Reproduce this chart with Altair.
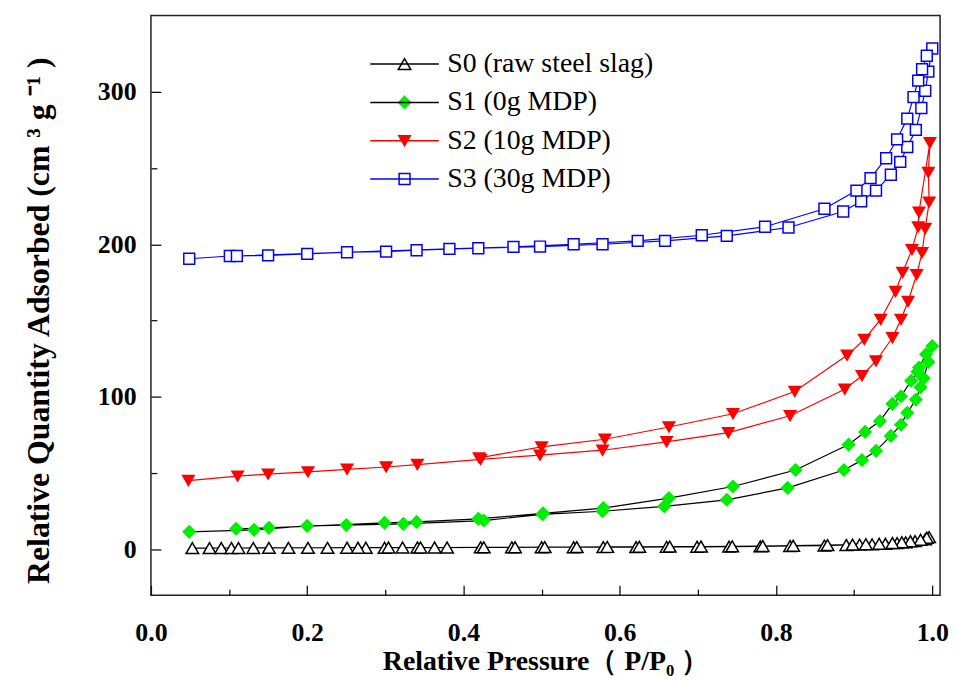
import altair as alt
import pandas as pd

# ---------------- data ----------------
names = ["S0 (raw steel slag)", "S1 (0g MDP)", "S2 (10g MDP)", "S3 (30g MDP)"]
line_colors = ["#000000", "#000000", "#ff0000", "#0000ff"]
fill_colors = ["#ffffff", "#00ee00", "#ff0000", "#ffffff"]
stroke_colors = ["#000000", "#00ee00", "#ff0000", "#0000ff"]
shapes = ["triangle-up", "diamond", "triangle-down", "square"]
sizes = [160, 120, 170, 85]

s0_ads_p = [0.053, 0.075, 0.090, 0.103, 0.131, 0.151, 0.176, 0.201, 0.226, 0.251, 0.275, 0.299, 0.322,
            0.341, 0.363, 0.379, 0.422, 0.462, 0.500, 0.541, 0.579, 0.621, 0.660, 0.699, 0.740, 0.780,
            0.818, 0.862, 0.890, 0.907, 0.923, 0.940, 0.955, 0.966, 0.978, 0.991, 0.996]
s0_ads_v = [0.8, 0.8, 0.9, 0.9, 0.9, 1.0, 1.0, 1.0, 1.0, 1.1, 1.1, 1.1, 1.2,
            1.2, 1.2, 1.2, 1.3, 1.3, 1.4, 1.4, 1.5, 1.5, 1.6, 1.7, 1.8, 2.0,
            2.2, 2.5, 2.9, 3.1, 3.3, 3.7, 4.1, 4.6, 5.4, 6.6, 8.0]
s0_des_p = [0.993, 0.985, 0.972, 0.961, 0.949, 0.932, 0.915, 0.898, 0.866, 0.822, 0.783, 0.744,
            0.704, 0.664, 0.625, 0.584, 0.545, 0.504, 0.466, 0.426, 0.345, 0.304, 0.265, 0.112]
s0_des_v = [7.6, 6.3, 5.3, 4.7, 4.2, 3.7, 3.4, 3.1, 2.8, 2.4, 2.2, 2.0,
            1.9, 1.8, 1.7, 1.6, 1.5, 1.5, 1.4, 1.3, 1.2, 1.2, 1.1, 0.9]

s1_ads_p = [0.049, 0.132, 0.200, 0.250, 0.323, 0.426, 0.501, 0.578, 0.657, 0.737, 0.815, 0.887,
            0.910, 0.928, 0.947, 0.960, 0.968, 0.979, 0.985, 0.989, 0.995, 1.000]
s1_ads_v = [11.5, 12.8, 15.4, 15.9, 16.7, 18.9, 23.0, 25.0, 28.2, 32.5, 40.3, 52.0,
            58.5, 64.6, 74.4, 81.7, 89.5, 98.2, 106.2, 112.1, 122.9, 133.3]
s1_des_p = [0.992, 0.983, 0.981, 0.973, 0.960, 0.949, 0.933, 0.914, 0.893, 0.825, 0.745, 0.663,
            0.579, 0.502, 0.419, 0.340, 0.299, 0.151, 0.109]
s1_des_v = [127.9, 119.2, 116.4, 110.5, 100.4, 95.4, 84.1, 77.0, 68.7, 52.0, 41.2, 33.6,
            27.1, 23.6, 20.0, 18.0, 17.4, 14.1, 13.5]

s2_ads_p = [0.048, 0.111, 0.150, 0.201, 0.251, 0.301, 0.341, 0.422, 0.498, 0.578, 0.660, 0.739,
            0.818, 0.888, 0.910, 0.928, 0.949, 0.960, 0.969, 0.980, 0.987, 0.991, 0.996, 0.995, 0.997]
s2_ads_v = [45.1, 48.0, 49.3, 50.8, 52.5, 54.0, 55.6, 59.0, 61.8, 65.0, 70.5, 76.5,
            87.6, 105.0, 113.8, 123.5, 138.7, 150.7, 162.5, 180.0, 194.5, 210.3, 227.6, 247.1, 266.6]
s2_des_p = [0.983, 0.982, 0.974, 0.962, 0.953, 0.934, 0.913, 0.891, 0.824, 0.745, 0.663, 0.581,
            0.500, 0.420]
s2_des_v = [221.0, 211.3, 196.5, 181.5, 169.0, 150.7, 137.6, 127.2, 103.5, 88.9, 80.2, 72.2,
            67.2, 60.0]

s3_ads_p = [0.049, 0.101, 0.150, 0.200, 0.251, 0.301, 0.340, 0.419, 0.498, 0.578, 0.658, 0.737,
            0.816, 0.886, 0.909, 0.928, 0.947, 0.959, 0.968, 0.979, 0.986, 0.991, 0.995, 1.000]
s3_ads_v = [190.5, 192.3, 192.7, 193.7, 194.8, 195.2, 196.1, 197.4, 198.5, 200.0, 202.2, 205.5,
            211.0, 221.5, 228.2, 235.2, 245.6, 254.0, 263.8, 275.0, 289.3, 300.6, 313.2, 328.3]
s3_des_p = [0.993, 0.987, 0.982, 0.976, 0.968, 0.955, 0.941, 0.921, 0.903, 0.862, 0.786, 0.705,
            0.623, 0.541, 0.464, 0.382, 0.110]
s3_des_v = [323.6, 314.7, 307.3, 296.5, 282.4, 268.8, 256.4, 243.4, 235.2, 223.3, 211.5, 205.9,
            202.2, 200.0, 198.3, 197.0, 192.3]

x_major = [0.0, 0.2, 0.4, 0.6, 0.8, 1.0]
x_minor = [0.1, 0.3, 0.5, 0.7, 0.9]
y_major = [0, 100, 200, 300]
y_minor = [50, 150, 250]

x_title = "Relative Pressure（ P/P₀ ）"
y_title = "Relative Quantity Adsorbed (cm\u00a0³\u00a0g\u00a0⁻¹\u00a0)"

# ---------------- table ----------------
series_data = [
    (s0_ads_p + s0_des_p, s0_ads_v + s0_des_v),
    (s1_ads_p + s1_des_p, s1_ads_v + s1_des_v),
    (s2_ads_p + s2_des_p, s2_ads_v + s2_des_v),
    (s3_ads_p + s3_des_p, s3_ads_v + s3_des_v),
]
rows = []
for name, (ps, vs) in zip(names, series_data):
    for i, (p, v) in enumerate(zip(ps, vs)):
        rows.append({"P": p, "V": v, "seq": i, "series": name, "series_l": name})
df = pd.DataFrame(rows)

FONT = "Liberation Serif"
xs = alt.Scale(domain=[0, 1.01], nice=False, zero=False)
ys = alt.Scale(domain=[-30, 350], nice=False, zero=False)

LX, LY = 241.5, 35
LEG_FS = 28
ROW_PAD = 10.6

lines = alt.Chart(df).mark_line(strokeWidth=1.2, interpolate="linear").encode(
    x=alt.X("P:Q", scale=xs, axis=alt.Axis(
        orient="bottom", values=x_major, format=".1f", tickSize=10, offset=-10, domain=False,
        tickColor="#111", tickWidth=1.3, labelPadding=25, labelFlush=False, labelOverlap=False,
        labelFont=FONT, labelFontWeight="bold", labelFontSize=26, labelColor="#000",
        grid=False, title=x_title, titleFont=FONT, titleFontWeight="bold", titleFontSize=28,
        titleColor="#000", titlePadding=2)),
    y=alt.Y("V:Q", scale=ys, axis=alt.Axis(
        orient="left", values=y_major, format="d", tickSize=10, offset=-10, domain=False,
        tickColor="#111", tickWidth=1.3, labelPadding=15, labelOverlap=False,
        labelFont=FONT, labelFontWeight="bold", labelFontSize=26, labelColor="#000",
        grid=False, title=y_title, titleFont=FONT, titleFontWeight="bold", titleFontSize=32,
        titleColor="#000", titlePadding=42, titleY=307)),
    # data-driven (sorted) domain for the line colours so this legend stays separate
    color=alt.Color("series_l:N", sort="ascending", scale=alt.Scale(range=line_colors),
                    legend=alt.Legend(orient="none", legendX=LX, legendY=LY, title=None,
                                      symbolType="M-2.73,0H2.73", symbolSize=640, symbolStrokeWidth=1.5,
                                      labelFont=FONT, labelFontSize=LEG_FS, labelColor="#000",
                                      labelOpacity=1, labelOffset=29, symbolOffset=0,
                                      rowPadding=ROW_PAD, padding=0, labelLimit=400)),
    order="seq:Q",
)

points = alt.Chart(df).mark_point(opacity=1, fillOpacity=1, strokeWidth=1.5).encode(
    x=alt.X("P:Q", scale=xs, axis=alt.Axis(
        orient="bottom", values=x_minor, tickSize=6, offset=-6, domain=False, labels=False,
        tickColor="#111", tickWidth=1.3, grid=False, title=None)),
    y=alt.Y("V:Q", scale=ys, axis=alt.Axis(
        orient="left", values=y_minor, tickSize=6, offset=-6, domain=False, labels=False,
        tickColor="#111", tickWidth=1.3, grid=False, title=None)),
    shape=alt.Shape("series:N", scale=alt.Scale(domain=names, range=shapes)),
    fill=alt.Fill("series:N", scale=alt.Scale(domain=names, range=fill_colors)),
    stroke=alt.Stroke("series:N", scale=alt.Scale(domain=names, range=stroke_colors)),
    size=alt.Size("series:N", scale=alt.Scale(domain=names, range=sizes),
                  legend=alt.Legend(orient="none", legendX=LX, legendY=LY, title=None,
                                    labelFont=FONT, labelFontSize=LEG_FS, labelExpr="''",
                                    symbolStrokeWidth=1.5, symbolOffset=0,
                                    rowPadding=ROW_PAD, padding=0)),
)

chart = alt.layer(lines, points).resolve_axis(
    x="independent", y="independent"
).resolve_legend(color="independent").properties(
    width=795, height=584,
    autosize=alt.AutoSizeParams(type="none"),
    padding={"left": 144, "top": 5, "right": 10, "bottom": 85},
).configure_view(stroke="#222", strokeWidth=1.5).configure_legend(
    orient="none", title=None, padding=0, symbolOffset=0, symbolStrokeWidth=1.5
)

chart.save("out.html", embed_options={"renderer": "svg", "actions": False})
